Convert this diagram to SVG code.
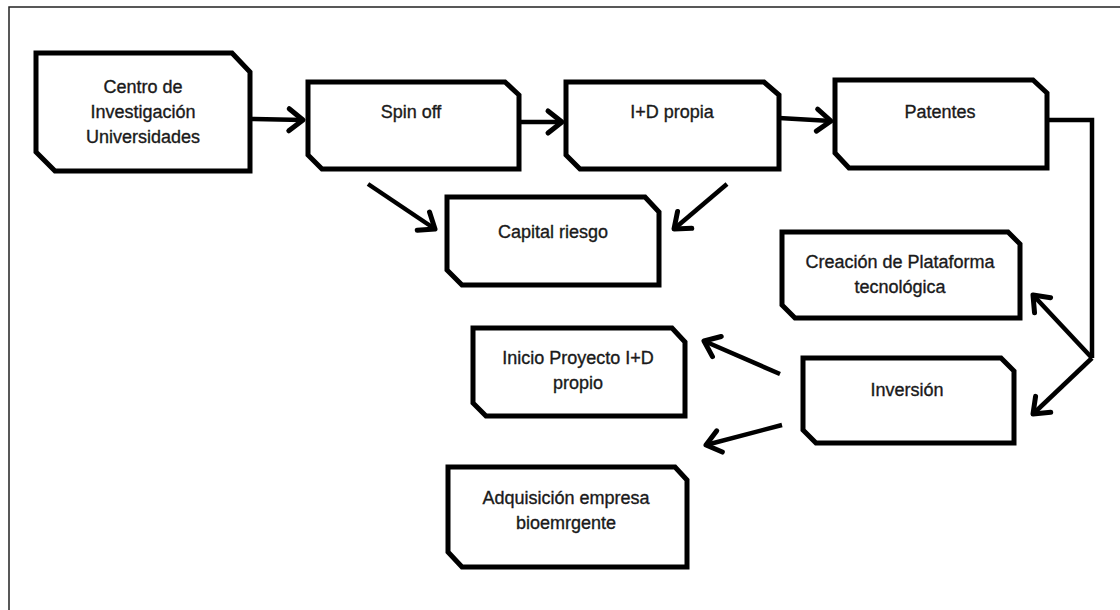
<svg xmlns="http://www.w3.org/2000/svg" width="1120" height="610" viewBox="0 0 1120 610">
  <defs>
    <marker id="head" markerUnits="userSpaceOnUse" markerWidth="30" markerHeight="30" refX="0" refY="0" viewBox="-20 -15 30 30" orient="auto" overflow="visible">
      <path d="M-14,-11 L0,0 L-14,11" fill="none" stroke="#000" stroke-width="5" stroke-linecap="round" stroke-linejoin="round"/>
    </marker>
    <style>
      .box { fill: #fff; stroke: #000; stroke-width: 5; stroke-linejoin: miter; }
      .lbl { font-family: "Liberation Sans", Arial, sans-serif; font-size: 18px; fill: #1a1a1a; stroke: #1a1a1a; stroke-width: 0.35; text-anchor: middle; dominant-baseline: central; }
      .wire { fill: none; stroke: #000; stroke-width: 4.5; }
      .arrow { fill: none; stroke: #000; stroke-width: 4.5; marker-end: url(#head); }
      .frame { fill: none; stroke: #222; stroke-width: 1.5; }
    </style>
  </defs>

  <rect width="1120" height="610" fill="#fff"/>
  <!-- page frame (open to the right and bottom) -->
  <path class="frame" d="M9,610 L9,7 L1120,7"/>

  <g id="connectors">
    <line class="arrow" x1="250" y1="119" x2="303" y2="120"/>
    <line class="arrow" x1="519" y1="122" x2="562" y2="122"/>
    <line class="arrow" x1="779" y1="118" x2="831" y2="121"/>
    <line class="arrow" x1="368" y1="184" x2="435" y2="229"/>
    <line class="arrow" x1="727" y1="184" x2="674" y2="229"/>
    <path class="wire" d="M1047,120 L1092,120 L1092,358"/>
    <line class="arrow" x1="1092" y1="358" x2="1033" y2="295"/>
    <line class="arrow" x1="1092" y1="358" x2="1033" y2="414"/>
    <line class="arrow" x1="780" y1="374" x2="704" y2="341"/>
    <line class="arrow" x1="782" y1="425" x2="706" y2="445"/>
  </g>

  <g id="centro">
    <path class="box" d="M36,53 L232,53 L250,72 L250,171 L55,171 L36,152 Z"/>
    <text class="lbl" x="143" y="87">Centro de</text>
    <text class="lbl" x="143" y="112">Investigación</text>
    <text class="lbl" x="143" y="137">Universidades</text>
  </g>

  <g id="spinoff">
    <path class="box" d="M308,82 L505,82 L519,95 L519,169 L322,169 L308,155 Z"/>
    <text class="lbl" x="411" y="112">Spin off</text>
  </g>

  <g id="idpropia">
    <path class="box" d="M566,82 L764,82 L779,95 L779,169 L580,169 L566,155 Z"/>
    <text class="lbl" x="672" y="112">I+D propia</text>
  </g>

  <g id="patentes">
    <path class="box" d="M835,80 L1033,80 L1047,93 L1047,168 L849,168 L835,153 Z"/>
    <text class="lbl" x="940" y="112">Patentes</text>
  </g>

  <g id="capital">
    <path class="box" d="M447,197 L645,197 L659,212 L659,285 L462,285 L447,270 Z"/>
    <text class="lbl" x="553" y="232">Capital riesgo</text>
  </g>

  <g id="plataforma">
    <path class="box" d="M782,232 L1008,232 L1020,244 L1020,318 L795,318 L782,305 Z"/>
    <text class="lbl" x="900" y="262">Creación de Plataforma</text>
    <text class="lbl" x="900" y="287">tecnológica</text>
  </g>

  <g id="inicio">
    <path class="box" d="M473,328 L672,328 L685,342 L685,416 L486,416 L473,403 Z"/>
    <text class="lbl" x="578" y="358">Inicio Proyecto I+D</text>
    <text class="lbl" x="578" y="383">propio</text>
  </g>

  <g id="inversion">
    <path class="box" d="M803,358 L1001,358 L1014,371 L1014,443 L816,443 L803,430 Z"/>
    <text class="lbl" x="907" y="390">Inversión</text>
  </g>

  <g id="adquisicion">
    <path class="box" d="M448,467 L675,467 L687,480 L687,567 L462,567 L448,552 Z"/>
    <text class="lbl" x="566" y="498">Adquisición empresa</text>
    <text class="lbl" x="566" y="523">bioemrgente</text>
  </g>
</svg>
